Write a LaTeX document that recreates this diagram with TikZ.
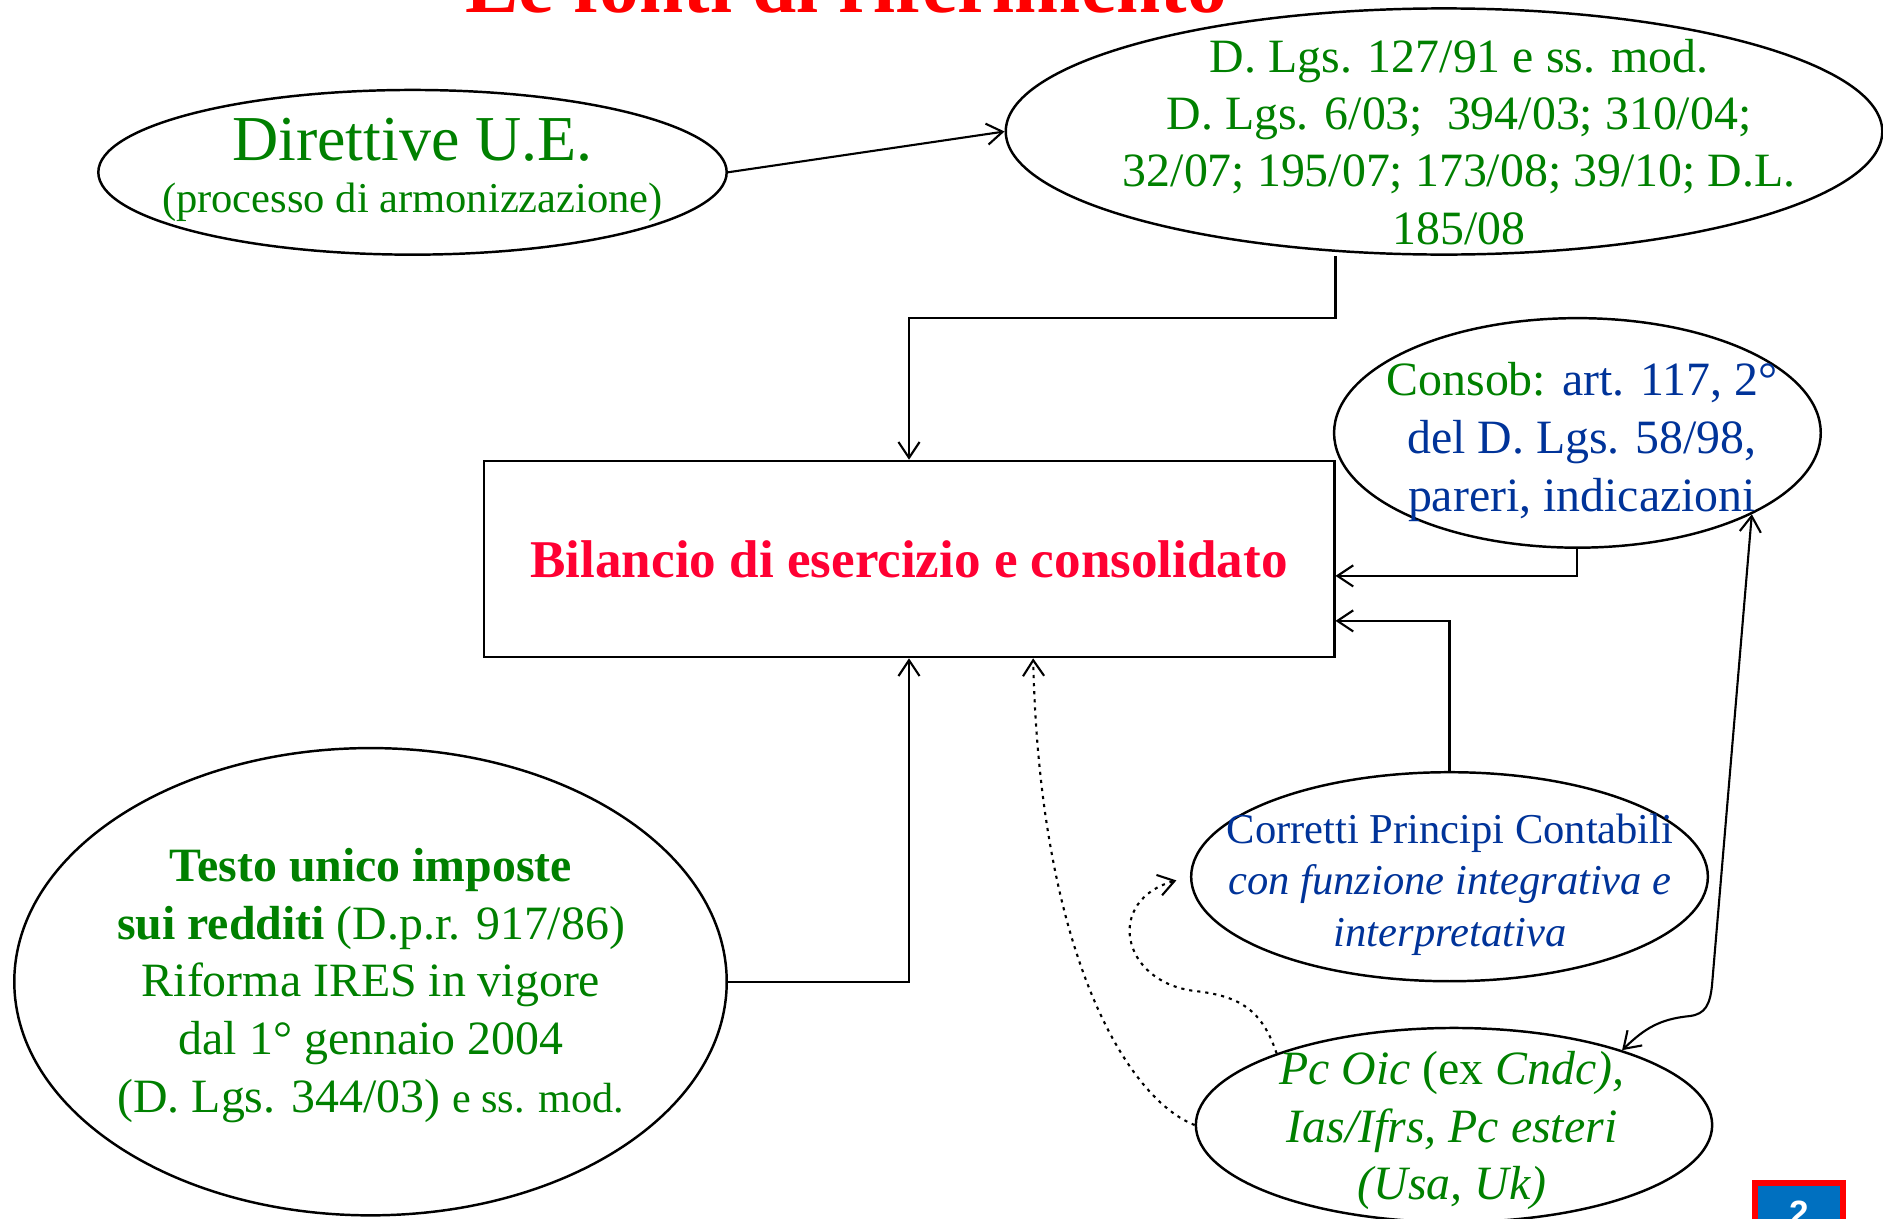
\documentclass[tikz,border=0pt]{standalone}
\usepackage{fontspec}
\setmainfont{Liberation Serif}
\newfontfamily\pagefont{Liberation Sans}
\usetikzlibrary{shapes.geometric,arrows.meta}
\definecolor{lawgreen}{RGB}{0,128,0}
\definecolor{lawblue}{RGB}{0,51,153}
\definecolor{titlered}{RGB}{255,0,0}
\definecolor{boxred}{RGB}{255,0,51}
\definecolor{pageblue}{RGB}{0,112,192}
\newcommand{\fsize}[2]{\fontsize{#1}{#2}\selectfont}

\begin{document}
\begin{tikzpicture}[x=0.01cm, y=-0.01cm,
	source node/.style={draw, ellipse, line width=0.7pt, inner sep=0pt},
	target node/.style={draw, rectangle, line width=0.7pt, inner sep=0pt},
	text node/.style={anchor=base, align=center, inner sep=0pt},
	link/.style={line width=0.6pt, -{Straight Barb[length=4.5pt,width=6pt]}},
	both link/.style={line width=0.6pt, {Straight Barb[length=4.5pt,width=6pt]}-{Straight Barb[length=4.5pt,width=6pt]}},
	dotted link/.style={link, dash pattern=on 0.9pt off 1.4pt}]
	
	\useasboundingbox (0,0) rectangle (1883,1218);
	
	% title, cut by the top edge
	\node[text node, font=\bfseries\fsize{22.6}{26}, text=titlered] (title) at (846,12) {Le fonti di riferimento};
	
	% sources (multi-line texts sit on their last baseline)
	\node[source node, minimum width=6.28cm, minimum height=1.646cm] (dir) at (412.5,172.3) {};
	\node[text node, font=\fsize{18.2}{21}, text=lawgreen] (dirname) at (412.5,160) {Direttive U.E.};
	\node[text node, font=\fsize{12.1}{14}, text=lawgreen] (dirnote) at (412.5,212.5) {(processo di armonizzazione)};
	
	\node[source node, minimum width=8.76cm, minimum height=2.46cm] (dlgs) at (1444,131.5) {};
	\node[text node, font=\fsize{13.6}{16.3}, text=lawgreen] (dlgslist) at (1459,244)
		{D. Lgs. 127/91 e ss. mod.\\ D. Lgs. 6/03;~ 394/03; 310/04;\\ 32/07; 195/07; 173/08; 39/10; D.L.\\ 185/08};
	
	\node[target node, minimum width=8.5cm, minimum height=1.96cm, font=\bfseries\fsize{15.1}{18}, text=boxred] (bil) at (909,559) {Bilancio di esercizio e consolidato};
	
	\node[source node, minimum width=4.864cm, minimum height=2.294cm] (consob) at (1577.4,432.9) {};
	\node[text node, font=\fsize{13.6}{16.4}, text=lawblue] (consobtext) at (1582,511)
		{\textcolor{lawgreen}{Consob:} art. 117, 2°\\ del D. Lgs. 58/98,\\ pareri, indicazioni};
	
	\node[source node, minimum width=7.12cm, minimum height=4.67cm] (tuir) at (370.5,981.7) {};
	\node[text node, font=\fsize{13.6}{16.4}, text=lawgreen] (tuirtext) at (371,1112)
		{\textbf{Testo unico imposte}\\ \textbf{sui redditi} (D.p.r. 917/86)\\ Riforma IRES in vigore\\ dal 1° gennaio 2004\\ (D. Lgs. 344/03) {\fsize{12}{16.4}e ss. mod.}};
	
	\node[source node, minimum width=5.164cm, minimum height=2.089cm] (oic) at (1449.5,876.7) {};
	\node[text node, font=\fsize{12.1}{14.6}, text=lawblue] (oictext) at (1450,946)
		{Corretti Principi Contabili\\ \textit{con funzione integrativa e}\\ \textit{interpretativa}};
	
	\node[source node, minimum width=5.16cm, minimum height=1.94cm] (pc) at (1454,1125) {};
	\node[text node, font=\itshape\fsize{13.6}{16.4}, text=lawgreen] (pctext) at (1452,1199.7)
		{Pc Oic \textup{(ex} Cndc),\\ Ias/Ifrs, Pc esteri\\ (Usa, Uk)};
	
	% page number
	\node[draw=titlered, line width=1.7pt, fill=pageblue, minimum width=0.887cm, minimum height=0.8cm, anchor=north, inner sep=0pt] (pagebox) at (1799,1180.3) {};
	\node[text node, font=\pagefont\bfseries\fsize{10}{12}, text=white] (pagenum) at (1799,1225) {2};
	
	% connectors
	\draw[link] (dir.east) -- (dlgs.west);
	\draw[link] (dlgs.south -| bil.east) -- ++(0,62) -| (bil.north);
	\draw[link] (consob.south) |- ([yshift=-4.8pt]bil.east);
	\draw[link] (oic.north) |- ([yshift=-17.6pt]bil.east);
	\draw[link] (tuir.east) -| (bil.south);
	\draw[both link] (pc.24) .. controls (1645,1028) and (1660,1019) .. (1690,1016)
		.. controls (1705,1014) and (1710,1005) .. (1712,985) -- (consob.-25);
	\draw[dotted link] (pc.west) .. controls (1130,1100) and (1040,960) .. ([xshift=35.3pt]bil.south);
	\draw[dotted link, shorten >=4pt] (pc.158) .. controls (1262,1010) and (1240,996) .. (1195,991)
		.. controls (1120,982) and (1105,900) .. (oic.west);
\end{tikzpicture}
\end{document}
